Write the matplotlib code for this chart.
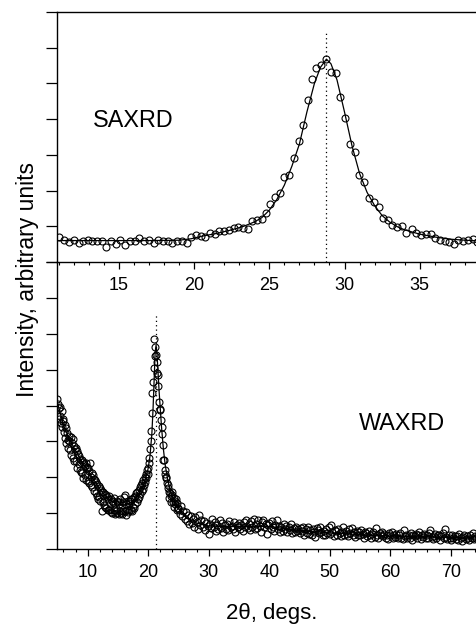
import numpy as np
import matplotlib
matplotlib.use("Agg")
import matplotlib.pyplot as plt
from matplotlib.ticker import MultipleLocator, NullFormatter

plt.rcParams['font.family'] = ['Liberation Sans', 'DejaVu Sans']

# ---------------- SAXRD (top panel) ----------------
sax_x = [11.04, 11.37, 11.68, 12.01, 12.32, 12.63, 12.92, 13.23, 13.52, 13.85,
         14.18, 14.49, 14.80, 15.11, 15.42, 15.73, 16.06, 16.37, 16.68, 17.01,
         17.32, 17.63, 17.94, 18.25, 18.56, 18.87, 19.21, 19.52, 19.78, 20.11,
         20.44, 20.75, 21.04, 21.37, 21.66, 21.99, 22.33, 22.64, 22.95, 23.28,
         23.59, 23.85, 24.16, 24.50, 24.78, 25.07, 25.38, 25.69, 25.98, 26.31,
         26.62, 26.95, 27.24, 27.57, 27.82, 28.13, 28.43, 28.74, 29.08, 29.41,
         29.72, 30.05, 30.34, 30.67, 30.98, 31.29, 31.60, 31.95, 32.26, 32.55,
         32.88, 33.17, 33.48, 33.81, 34.10, 34.46, 34.77, 35.07, 35.39, 35.72,
         36.03, 36.34, 36.65, 36.96, 37.26, 37.56, 37.89, 38.19, 38.51, 38.78]
sax_y = [0.69, 0.63, 0.56, 0.63, 0.54, 0.60, 0.63, 0.60, 0.60, 0.58,
         0.43, 0.58, 0.50, 0.63, 0.47, 0.58, 0.60, 0.66, 0.58, 0.63,
         0.52, 0.62, 0.58, 0.58, 0.54, 0.58, 0.58, 0.54, 0.69, 0.75,
         0.73, 0.71, 0.82, 0.78, 0.88, 0.88, 0.90, 0.95, 0.97, 0.95,
         0.93, 1.16, 1.18, 1.21, 1.36, 1.62, 1.81, 1.94, 2.37, 2.43,
         2.91, 3.38, 3.83, 4.54, 5.12, 5.43, 5.52, 5.68, 5.32, 5.29,
         4.61, 4.04, 3.30, 3.09, 2.43, 2.23, 1.79, 1.67, 1.55, 1.24,
         1.17, 1.04, 0.97, 1.02, 0.82, 0.92, 0.82, 0.75, 0.78, 0.78,
         0.67, 0.62, 0.58, 0.55, 0.50, 0.62, 0.60, 0.62, 0.64, 0.55]

sax_fit_x = [10.9, 13, 15, 17, 19, 19.8, 20.5, 21.5, 22.5, 23.3, 24.0, 24.5, 25.0,
             25.5, 26.0, 26.5, 27.0, 27.5, 28.0, 28.4, 28.8, 29.1, 29.5, 30.0,
             30.5, 31.0, 31.5, 32.0, 32.5, 33.0, 33.5, 34.0, 35.0, 36.0, 37.0,
             38.0, 39.0]
sax_fit_y = [0.60, 0.60, 0.60, 0.60, 0.61, 0.65, 0.72, 0.80, 0.90, 1.00, 1.12, 1.24, 1.45,
             1.75, 2.15, 2.68, 3.30, 4.20, 5.00, 5.45, 5.68, 5.55, 5.10, 4.20,
             3.25, 2.48, 1.95, 1.58, 1.30, 1.12, 0.99, 0.90, 0.78, 0.70, 0.64,
             0.61, 0.59]
sax_peak = 28.8
sax_peak_top = 6.41

# ---------------- WAXRD (bottom panel) ----------------
wax_x_a = np.round(np.arange(5.0, 24.95, 0.1), 2)
wax_y_a = [4.17, 4.04, 3.92, 3.62, 3.95, 3.71, 3.50, 3.85, 3.40, 3.62,
           3.57, 3.25, 3.45, 3.10, 3.38, 2.95, 3.22, 3.05, 2.82, 3.15,
           3.00, 2.75, 3.12, 2.62, 2.95, 3.08, 2.55, 2.88, 2.45, 2.80,
           2.82, 2.45, 2.72, 2.25, 2.65, 2.38, 2.58, 2.20, 2.52, 2.15,
           2.48, 2.12, 2.42, 1.98, 2.38, 2.05, 2.32, 2.40, 1.92, 2.28,
           2.25, 1.90, 2.18, 1.85, 2.39, 2.02, 1.78, 2.12, 1.72, 2.05,
           1.95, 1.62, 1.92, 1.55, 1.88, 1.48, 1.82, 1.40, 1.75, 1.45,
           1.70, 1.35, 1.65, 1.05, 1.60, 1.30, 1.58, 1.22, 1.52, 1.18,
           1.50, 1.15, 1.45, 1.10, 1.40, 1.08, 1.48, 1.12, 1.38, 1.02,
           1.35, 1.00, 1.32, 1.08, 1.42, 0.98, 1.28, 1.05, 1.35, 1.00,
           1.30, 0.98, 1.25, 1.05, 1.38, 1.00, 1.22, 0.98, 1.32, 1.05,
           1.45, 1.50, 1.05, 0.94, 1.25, 1.08, 1.35, 1.02, 1.28, 1.10,
           1.35, 1.08, 1.40, 1.05, 1.38, 1.18, 1.45, 1.15, 1.48, 1.25,
           1.55, 1.30, 1.58, 1.38, 1.65, 1.45, 1.72, 1.52, 1.78, 1.62,
           1.85, 1.68, 1.92, 1.78, 2.02, 1.88, 2.10, 1.98, 2.20, 2.08,
           2.25, 2.40, 2.55, 2.78, 3.00, 3.30, 3.80, 4.35, 4.66, 5.05,
           5.84, 5.37, 5.62, 5.40, 5.20, 4.90, 4.84, 4.55, 4.10, 3.90,
           3.88, 3.60, 3.40, 3.20, 2.90, 2.47, 2.48, 2.20, 2.10, 1.97,
           2.00, 1.85, 1.78, 1.70, 1.60, 1.41, 1.55, 1.48, 1.32, 1.50,
           1.58, 1.30, 1.42, 1.18, 1.35, 1.25, 1.40, 1.10, 1.28, 1.15]
wax_x_b = np.round(np.arange(25.0, 74.9, 0.2), 2)
wax_y_b = [1.12, 0.98, 1.20, 0.92, 1.05, 0.85, 1.02, 0.78, 0.95, 0.70,
           0.92, 0.72, 0.85, 0.62, 0.88, 0.75, 0.55, 0.95, 0.68, 0.80,
           0.60, 0.78, 0.52, 0.72, 0.65, 0.43, 0.70, 0.58, 0.83, 0.62,
           0.75, 0.50, 0.68, 0.56, 0.80, 0.58, 0.72, 0.48, 0.66, 0.55,
           0.70, 0.52, 0.78, 0.60, 0.65, 0.55, 0.74, 0.47, 0.68, 0.60,
           0.72, 0.55, 0.66, 0.50, 0.76, 0.60, 0.82, 0.58, 0.70, 0.52,
           0.78, 0.62, 0.85, 0.55, 0.70, 0.58, 0.80, 0.65, 0.48, 0.74,
           0.82, 0.60, 0.70, 0.42, 0.66, 0.72, 0.56, 0.78, 0.62, 0.50,
           0.68, 0.82, 0.55, 0.64, 0.48, 0.62, 0.50, 0.70, 0.56, 0.64,
           0.48, 0.62, 0.54, 0.70, 0.45, 0.58, 0.46, 0.62, 0.50, 0.55,
           0.44, 0.58, 0.50, 0.62, 0.40, 0.55, 0.45, 0.60, 0.42, 0.52,
           0.40, 0.56, 0.48, 0.34, 0.58, 0.52, 0.44, 0.62, 0.46, 0.40,
           0.50, 0.38, 0.55, 0.45, 0.60, 0.42, 0.66, 0.48, 0.36, 0.52,
           0.50, 0.40, 0.56, 0.44, 0.35, 0.48, 0.60, 0.38, 0.50, 0.42,
           0.36, 0.55, 0.45, 0.58, 0.40, 0.46, 0.34, 0.50, 0.40, 0.48,
           0.38, 0.52, 0.42, 0.30, 0.46, 0.44, 0.35, 0.50, 0.40, 0.32,
           0.42, 0.48, 0.34, 0.58, 0.40, 0.30, 0.44, 0.38, 0.46, 0.35,
           0.42, 0.32, 0.40, 0.28, 0.45, 0.38, 0.46, 0.30, 0.40, 0.34,
           0.42, 0.30, 0.38, 0.44, 0.32, 0.28, 0.52, 0.36, 0.40, 0.30,
           0.38, 0.32, 0.44, 0.26, 0.40, 0.36, 0.42, 0.30, 0.38, 0.46,
           0.28, 0.40, 0.34, 0.42, 0.30, 0.38, 0.30, 0.44, 0.52, 0.34,
           0.28, 0.36, 0.42, 0.30, 0.38, 0.40, 0.26, 0.35, 0.44, 0.30,
           0.56, 0.34, 0.28, 0.38, 0.32, 0.24, 0.40, 0.32, 0.36, 0.28,
           0.36, 0.26, 0.42, 0.30, 0.22, 0.34, 0.40, 0.28, 0.36, 0.30,
           0.26, 0.38, 0.32, 0.44, 0.28, 0.35, 0.30, 0.40, 0.26, 0.33]

wax_fit_x = [4.9, 6, 7, 8, 9, 10, 11, 12, 13, 14, 15, 16, 17, 18, 19, 19.5, 20,
             20.3, 20.6, 20.8, 21.0, 21.15, 21.3, 21.45, 21.6, 21.8, 22.0, 22.2,
             22.5, 22.8, 23.2, 23.6, 24, 25, 26, 27, 28, 30, 35, 40, 45, 50, 55,
             60, 65, 70, 75]
wax_fit_y = [4.15, 3.45, 3.05, 2.75, 2.45, 2.2, 1.93, 1.68, 1.47, 1.33, 1.25, 1.23,
             1.28, 1.42, 1.70, 1.92, 2.25, 2.60, 3.20, 3.90, 4.80, 5.50, 5.68, 5.45,
             5.00, 4.40, 3.90, 3.40, 2.80, 2.35, 1.95, 1.65, 1.45, 1.12, 0.92, 0.80,
             0.72, 0.64, 0.62, 0.63, 0.51, 0.45, 0.40, 0.36, 0.34, 0.32, 0.30]
wax_peak = 21.24
wax_peak_top = 6.52

# ---------------- figure ----------------
W, H = 476, 625
fig = plt.figure(figsize=(W / 100, H / 100), dpi=100)
left = 57 / W
ax1 = fig.add_axes([left, (H - 262) / H, 1 - left + 0.02, 250 / H])
ax2 = fig.add_axes([left, (H - 549) / H, 1 - left + 0.02, 287 / H])

mk = dict(marker='o', ms=5.0, mfc='none', mec='black', mew=0.8, ls='none', zorder=3)

ax1.plot(sax_fit_x, sax_fit_y, color='black', lw=0.9, zorder=2)
ax1.plot(sax_x, sax_y, **mk)
ax1.plot([sax_peak, sax_peak], [0, sax_peak_top], color='black', lw=0.9, ls=(0, (1, 2.5)))
ax1.set_xlim(10.89, 38.74 + 0.02 * (38.74 - 10.89) / (1 - left))
ax1.set_ylim(0, 7)
ax1.text(13.25, 3.95, 'SAXRD', fontsize=16.8, va='center', ha='left')

xa = np.concatenate([wax_x_a, wax_x_b])
ya = np.concatenate([wax_y_a, wax_y_b])
ax2.plot(wax_fit_x, wax_fit_y, color='black', lw=0.9, zorder=2)
ax2.plot(xa, ya, **mk)
ax2.plot([wax_peak, wax_peak], [0, wax_peak_top], color='black', lw=0.9, ls=(0, (1, 2.5)))
ax2.set_xlim(4.94, 74.13 + 0.02 * (74.13 - 4.94) / (1 - left))
ax2.set_ylim(0, 8)
ax2.text(54.8, 3.51, 'WAXRD', fontsize=16.8, va='center', ha='left')
ax2.set_xlabel('2θ, degs.', fontsize=16, labelpad=16)

for ax in (ax1, ax2):
    ax.spines['right'].set_visible(False)
    for s in ax.spines.values():
        s.set_linewidth(1.0)
    ax.yaxis.set_major_locator(MultipleLocator(1))
    ax.yaxis.set_major_formatter(NullFormatter())
    ax.tick_params(axis='y', which='major', direction='out', length=8, width=0.9, left=True, right=False)
    ax.tick_params(axis='x', which='major', direction='out', length=5, width=0.9,
                   labelsize=13, pad=6, top=False)
    ax.tick_params(axis='x', which='minor', direction='out', length=2.5, width=0.8, top=False)
    ax.set_facecolor('none')

ax1.xaxis.set_major_locator(MultipleLocator(5))
ax1.xaxis.set_minor_locator(MultipleLocator(1))
ax2.xaxis.set_major_locator(MultipleLocator(10))
ax2.xaxis.set_minor_locator(MultipleLocator(2))
ax2.spines['top'].set_visible(False)

fig.text(28 / W, 1 - 280 / H, 'Intensity, arbitrary units', rotation=90,
         fontsize=16.5, ha='center', va='center')

fig.savefig('out.png', dpi=100)
